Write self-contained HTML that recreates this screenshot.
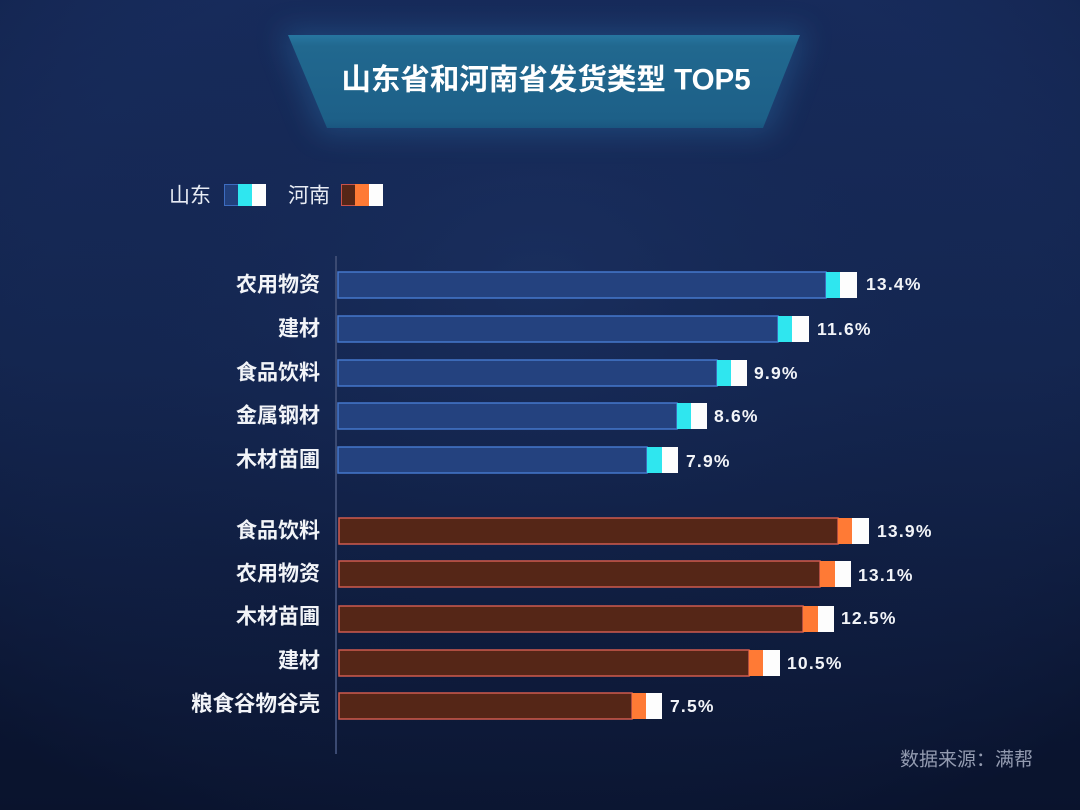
<!DOCTYPE html>
<html><head><meta charset="utf-8">
<style>
html,body{margin:0;padding:0;}
body{width:1080px;height:810px;overflow:hidden;background:#0f1c40;}
svg{display:block;}
text{font-family:"Liberation Sans","Noto Sans CJK SC",sans-serif;}
</style></head>
<body>
<svg width="1080" height="810" viewBox="0 0 1080 810" xmlns="http://www.w3.org/2000/svg">
<defs>
<linearGradient id="bg" x1="0" y1="0" x2="0" y2="1">
<stop offset="0" stop-color="#172b5b"/>
<stop offset="0.45" stop-color="#142650"/>
<stop offset="1" stop-color="#0b1530"/>
</linearGradient>
<radialGradient id="vig" cx="0.5" cy="0.35" r="0.75">
<stop offset="0" stop-color="#1d3466" stop-opacity="0.55"/>
<stop offset="0.6" stop-color="#13244f" stop-opacity="0"/>
<stop offset="1" stop-color="#08112a" stop-opacity="0.5"/>
</radialGradient>
<linearGradient id="ban" x1="0" y1="0" x2="0" y2="1">
<stop offset="0" stop-color="#2776a0"/>
<stop offset="0.12" stop-color="#21688f"/>
<stop offset="0.9" stop-color="#1d6088"/>
<stop offset="1" stop-color="#1a5680"/>
</linearGradient>
<filter id="glow" x="-20%" y="-60%" width="140%" height="220%">
<feGaussianBlur stdDeviation="14"/>
</filter>
</defs>
<rect width="1080" height="810" fill="url(#bg)"/>
<rect width="1080" height="810" fill="url(#vig)"/>

<!-- banner -->
<polygon points="280,30 808,30 770,134 320,134" fill="#2a6fa8" opacity="0.4" filter="url(#glow)"/>
<polygon points="288,35 800,35 763,128 327,128" fill="url(#ban)"/>
<text x="546" y="80" fill="#ffffff" font-size="29.5" font-weight="bold" text-anchor="middle" dominant-baseline="central">山东省和河南省发货类型 TOP5</text>

<!-- legend -->
<text x="169" y="196" fill="#e8ecf4" font-size="21" dominant-baseline="central">山东</text>
<rect x="224.5" y="184.5" width="14" height="21" fill="#22407c" stroke="#3d6cc0" stroke-width="1"/>
<rect x="238" y="184" width="14" height="22" fill="#2fe6ef"/>
<rect x="252" y="184" width="14" height="22" fill="#fdfdfd"/>
<text x="288" y="196" fill="#e8ecf4" font-size="21" dominant-baseline="central">河南</text>
<rect x="341.5" y="184.5" width="14" height="21" fill="#552617" stroke="#c8524a" stroke-width="1"/>
<rect x="355" y="184" width="14" height="22" fill="#ff7a35"/>
<rect x="369" y="184" width="14" height="22" fill="#fdfdfd"/>

<!-- axis -->
<rect x="335" y="256" width="2" height="498" fill="#3b4a72"/>

<!-- Shandong bars -->
<g>
<rect x="338" y="272" width="488" height="26" fill="#24427f" stroke="#4577cc" stroke-width="1.5"/>
<rect x="826" y="272" width="14" height="26" fill="#2fe6ef"/><rect x="840" y="272" width="17" height="26" fill="#fdfdfd"/>
<text x="320" y="285" fill="#f2f4f8" font-size="21" font-weight="bold" text-anchor="end" dominant-baseline="central">农用物资</text>
<text x="866" y="284" fill="#f2f4f8" font-size="17.5" font-weight="bold" letter-spacing="1.2" dominant-baseline="central">13.4%</text>

<rect x="338" y="316" width="440" height="26" fill="#24427f" stroke="#4577cc" stroke-width="1.5"/>
<rect x="778" y="316" width="14" height="26" fill="#2fe6ef"/><rect x="792" y="316" width="17" height="26" fill="#fdfdfd"/>
<text x="320" y="329" fill="#f2f4f8" font-size="21" font-weight="bold" text-anchor="end" dominant-baseline="central">建材</text>
<text x="817" y="329" fill="#f2f4f8" font-size="17.5" font-weight="bold" letter-spacing="1.2" dominant-baseline="central">11.6%</text>

<rect x="338" y="360" width="379" height="26" fill="#24427f" stroke="#4577cc" stroke-width="1.5"/>
<rect x="717" y="360" width="14" height="26" fill="#2fe6ef"/><rect x="731" y="360" width="16" height="26" fill="#fdfdfd"/>
<text x="320" y="373" fill="#f2f4f8" font-size="21" font-weight="bold" text-anchor="end" dominant-baseline="central">食品饮料</text>
<text x="754" y="373" fill="#f2f4f8" font-size="17.5" font-weight="bold" letter-spacing="1.2" dominant-baseline="central">9.9%</text>

<rect x="338" y="403" width="339" height="26" fill="#24427f" stroke="#4577cc" stroke-width="1.5"/>
<rect x="677" y="403" width="14" height="26" fill="#2fe6ef"/><rect x="691" y="403" width="16" height="26" fill="#fdfdfd"/>
<text x="320" y="416" fill="#f2f4f8" font-size="21" font-weight="bold" text-anchor="end" dominant-baseline="central">金属钢材</text>
<text x="714" y="416" fill="#f2f4f8" font-size="17.5" font-weight="bold" letter-spacing="1.2" dominant-baseline="central">8.6%</text>

<rect x="338" y="447" width="309" height="26" fill="#24427f" stroke="#4577cc" stroke-width="1.5"/>
<rect x="647" y="447" width="15" height="26" fill="#2fe6ef"/><rect x="662" y="447" width="16" height="26" fill="#fdfdfd"/>
<text x="320" y="460" fill="#f2f4f8" font-size="21" font-weight="bold" text-anchor="end" dominant-baseline="central">木材苗圃</text>
<text x="686" y="461" fill="#f2f4f8" font-size="17.5" font-weight="bold" letter-spacing="1.2" dominant-baseline="central">7.9%</text>
</g>

<!-- Henan bars -->
<g>
<rect x="339" y="518" width="499" height="26" fill="#552617" stroke="#cf5a4e" stroke-width="1.5"/>
<rect x="838" y="518" width="14" height="26" fill="#ff7a35"/><rect x="852" y="518" width="17" height="26" fill="#fdfdfd"/>
<text x="320" y="531" fill="#f2f4f8" font-size="21" font-weight="bold" text-anchor="end" dominant-baseline="central">食品饮料</text>
<text x="877" y="531" fill="#f2f4f8" font-size="17.5" font-weight="bold" letter-spacing="1.2" dominant-baseline="central">13.9%</text>

<rect x="339" y="561" width="481" height="26" fill="#552617" stroke="#cf5a4e" stroke-width="1.5"/>
<rect x="820" y="561" width="15" height="26" fill="#ff7a35"/><rect x="835" y="561" width="16" height="26" fill="#fdfdfd"/>
<text x="320" y="574" fill="#f2f4f8" font-size="21" font-weight="bold" text-anchor="end" dominant-baseline="central">农用物资</text>
<text x="858" y="575" fill="#f2f4f8" font-size="17.5" font-weight="bold" letter-spacing="1.2" dominant-baseline="central">13.1%</text>

<rect x="339" y="606" width="464" height="26" fill="#552617" stroke="#cf5a4e" stroke-width="1.5"/>
<rect x="803" y="606" width="15" height="26" fill="#ff7a35"/><rect x="818" y="606" width="16" height="26" fill="#fdfdfd"/>
<text x="320" y="617" fill="#f2f4f8" font-size="21" font-weight="bold" text-anchor="end" dominant-baseline="central">木材苗圃</text>
<text x="841" y="618" fill="#f2f4f8" font-size="17.5" font-weight="bold" letter-spacing="1.2" dominant-baseline="central">12.5%</text>

<rect x="339" y="650" width="410" height="26" fill="#552617" stroke="#cf5a4e" stroke-width="1.5"/>
<rect x="749" y="650" width="14" height="26" fill="#ff7a35"/><rect x="763" y="650" width="17" height="26" fill="#fdfdfd"/>
<text x="320" y="661" fill="#f2f4f8" font-size="21" font-weight="bold" text-anchor="end" dominant-baseline="central">建材</text>
<text x="787" y="663" fill="#f2f4f8" font-size="17.5" font-weight="bold" letter-spacing="1.2" dominant-baseline="central">10.5%</text>

<rect x="339" y="693" width="293" height="26" fill="#552617" stroke="#cf5a4e" stroke-width="1.5"/>
<rect x="632" y="693" width="14" height="26" fill="#ff7a35"/><rect x="646" y="693" width="16" height="26" fill="#fdfdfd"/>
<text x="320" y="704" fill="#f2f4f8" font-size="21.5" font-weight="bold" text-anchor="end" dominant-baseline="central">粮食谷物谷壳</text>
<text x="670" y="706" fill="#f2f4f8" font-size="17.5" font-weight="bold" letter-spacing="1.2" dominant-baseline="central">7.5%</text>
</g>

<text x="1033" y="760" fill="#939bb0" font-size="19" text-anchor="end" dominant-baseline="central">数据来源：满帮</text>
</svg>
</body></html>
